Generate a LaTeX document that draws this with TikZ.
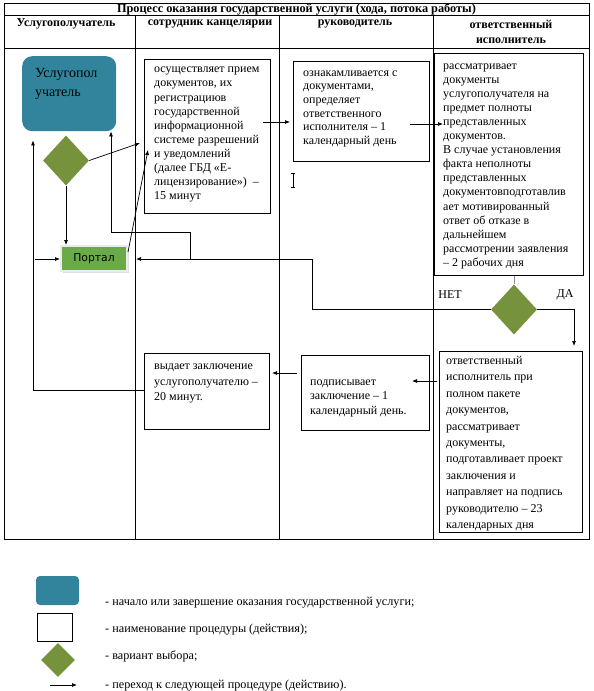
\documentclass[tikz,border=0pt]{standalone}
\usepackage{fontspec}
\setmainfont{Liberation Serif}
\newfontfamily\portalfont{DejaVu Sans}
\usetikzlibrary{shapes.geometric,arrows.meta,shadows}
\definecolor{tealbox}{HTML}{31849B}
\definecolor{olivedia}{HTML}{76923C}
\definecolor{portalgreen}{HTML}{6AAA48}
\begin{document}
\begin{tikzpicture}[x=1pt,y=-1pt,
  tbl/.style={line width=0.8pt},
  proc/.style={draw, line width=0.8pt, inner sep=0pt, anchor=north west},
  txt/.style={anchor=north west, inner sep=0pt, align=left},
  arr/.style={-{Latex[length=5pt,width=4pt]}, line width=0.7pt},
  ln/.style={line width=0.7pt},
  dia/.style={diamond, fill=olivedia, inner sep=0pt, minimum width=46pt, minimum height=50pt},
  hdr/.style={font=\bfseries\fontsize{12}{14}\selectfont, inner sep=0pt},
  lgtxt/.style={anchor=base west, inner sep=0pt, font=\fontsize{12.2}{14}\selectfont},
]
\useasboundingbox (0,0) rectangle (594,691);
% table frame
\draw[tbl] (4,3) rectangle (589,539);
\draw[tbl] (4,15) -- (589,15);
\draw[tbl] (4,48) -- (589,48);
\draw[tbl] (135,15) -- (135,539);
\draw[tbl] (279,15) -- (279,539);
\draw[tbl] (433,15) -- (433,539);
% headers
\node[hdr, font=\bfseries\fontsize{12.3}{14}\selectfont] (title) at (296.5,9) {Процесс оказания государственной услуги (хода, потока работы)};
\node[hdr] (h1) at (66,24) {Услугополучатель};
\node[hdr] (h2) at (210,24) {сотрудник канцелярии};
\node[hdr] (h3) at (355,24) {руководитель};
\node[hdr] (h4a) at (511,24) {ответственный};
\node[hdr] (h4b) at (511,40.5) {исполнитель};
% start
\node[fill=tealbox, rounded corners=10pt, minimum width=94pt, minimum height=75pt, anchor=north west, inner sep=0pt] (start) at (22,56) {};
\node[txt, font=\fontsize{14}{19}\selectfont] (starttxt) at (35,68) {Услугопол\\учатель};
% diamond 1
\node[dia] (d1) at (66,160.5) {};
% portal
\node[fill=portalgreen, draw=black!8, line width=2pt, drop shadow={shadow xshift=1.5pt, shadow yshift=-1.5pt, opacity=0.25}, minimum width=66pt, minimum height=25pt, inner sep=0pt, font=\portalfont\fontsize{10.8}{12}\selectfont] (portal) at (94,258.5) {Портал};
% box A
\node[proc, minimum width=126pt, minimum height=154pt] (boxA) at (144,58.5) {};
\node[txt, font=\fontsize{12}{14.1}\selectfont] (txtA) at (154,67) {осуществляет прием\\документов, их\\регистрациюв\\государственной\\информационной\\системе разрешений\\и уведомлений\\(далее ГБД «Е-\\лицензирование») \ –\\15 минут};
% box B
\node[proc, minimum width=136pt, minimum height=100pt] (boxB) at (293,61) {};
\node[txt, font=\fontsize{12}{13.6}\selectfont] (txtB) at (303,70.5) {ознакамливается с\\документами,\\определяет\\ответственного\\исполнителя – 1\\календарный день};
% box C
\node[proc, minimum width=149pt, minimum height=222pt] (boxC) at (434,53) {};
\node[txt, font=\fontsize{12}{14.07}\selectfont] (txtC) at (443,63.5) {рассматривает\\документы\\услугополучателя на\\предмет полноты\\представленных\\документов.\\В случае установления\\факта неполноты\\представленных\\документовподготавлив\\ает мотивированный\\ответ об отказе в\\дальнейшем\\рассмотрении заявления\\– 2 рабочих дня};
% diamond 2
\node[dia] (d2) at (514,309.5) {};
\node[inner sep=0pt, font=\fontsize{12}{14}\selectfont] (net) at (450,295) {НЕТ};
\node[inner sep=0pt, font=\fontsize{12}{14}\selectfont] (da) at (565,295) {ДА};
% box D
\node[proc, minimum width=143pt, minimum height=181pt] (boxD) at (439,351) {};
\node[txt, font=\fontsize{12}{16.4}\selectfont] (txtD) at (446,356) {ответственный\\исполнитель при\\полном пакете\\документов,\\рассматривает\\документы,\\подготавливает проект\\заключения и\\направляет на подпись\\руководителю – 23\\календарных дня};
% box E
\node[proc, minimum width=128pt, minimum height=75pt] (boxE) at (301,355) {};
\node[txt, font=\fontsize{12}{14.5}\selectfont] (txtE) at (310,379.5) {подписывает\\заключение – 1\\календарный день.};
% box F
\node[proc, minimum width=125pt, minimum height=76pt] (boxF) at (144,353) {};
\node[txt, font=\fontsize{12}{15.5}\selectfont] (txtF) at (154,364) {выдает заключение\\услугополучателю –\\20 минут.};
% I-beam cursor mark
\draw[line width=0.6pt] (291,173) -- (295,173) (293,173) -- (293,187) (291,187) -- (295,187);
% connectors
\coordinate (aStart) at (263,122);
\coordinate (aEnd) at (290,122);
\coordinate (bStart) at (410,124);
\coordinate (bEnd) at (443,124);
\coordinate (d1End) at (140,143);
\coordinate (pStart) at (128,252);
\coordinate (pEnd) at (148,150);
\coordinate (inPortal) at (35,259);
\coordinate (netCorner1) at (312,309.5);
\coordinate (netCorner2) at (312,259);
\coordinate (junction) at (190,259);
\coordinate (retA) at (190,232);
\coordinate (retB) at (111,232);
\coordinate (daCorner) at (574,309.5);
\coordinate (daEnd) at (574,346);
\coordinate (dStart) at (437,381);
\coordinate (dEnd) at (412,381);
\coordinate (eStart) at (297,373);
\coordinate (eEnd) at (272,373);
\coordinate (fCorner) at (33,390);
\draw[arr] (d1.south) -- (d1.south |- portal.north);
\draw[arr] (d1.east) -- (d1End);
\draw[arr] (pStart) -- (pEnd);
\draw[arr] (inPortal) -- (inPortal -| portal.west);
\draw[arr] (aStart) -- (aEnd);
\draw[arr] (bStart) -- (bEnd);
\draw[ln, draw=black!45] (boxC.south -| d2.north) -- (d2.north);
\draw[arr] (d2.east) -- (daCorner) -- (daEnd);
\draw[arr] (d2.west) -- (netCorner1) -- (netCorner2) -- ([xshift=8pt]portal.east |- netCorner2);
\draw[arr] (junction) -- (retA) -- (retB) -- (retB |- start.south);
\draw[arr] (dStart) -- (dEnd);
\draw[arr] (eStart) -- (eEnd);
\draw[arr] (boxF.west |- fCorner) -- (fCorner) -- ([yshift=-9pt]fCorner |- start.south);
% legend
\node[fill=tealbox, rounded corners=4pt, minimum width=43pt, minimum height=29pt, inner sep=0pt] (lg1) at (57.5,590.5) {};
\node[draw, line width=1.6pt, minimum width=35pt, minimum height=28pt, inner sep=0pt] (lg2) at (55,627.5) {};
\node[dia, minimum width=34pt, minimum height=34pt] (lg3) at (58,660) {};
\coordinate (lg4a) at (50,685);
\coordinate (lg4b) at (77,685);
\draw[arr] (lg4a) -- (lg4b);
\node[lgtxt] (l1) at (105,605) {- начало или завершение оказания государственной услуги;};
\node[lgtxt] (l2) at (105,632) {- наименование процедуры (действия);};
\node[lgtxt] (l3) at (105,659) {- вариант выбора;};
\node[lgtxt] (l4) at (105,688) {- переход к следующей процедуре (действию).};
\end{tikzpicture}
\end{document}
